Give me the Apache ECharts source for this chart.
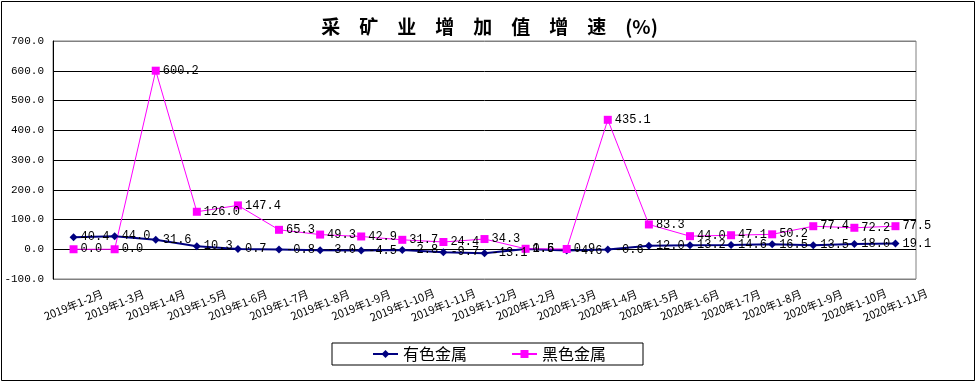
<!DOCTYPE html>
<html><head><meta charset="utf-8">
<script src="https://cdn.jsdelivr.net/npm/echarts@6/dist/echarts.min.js"></script>
<style>html,body{margin:0;padding:0;background:#fff}#c{width:979px;height:383px}</style>
</head><body><div id="c"></div>
<script>
const categories = ['2019年1-2月','2019年1-3月','2019年1-4月','2019年1-5月','2019年1-6月','2019年1-7月','2019年1-8月','2019年1-9月','2019年1-10月','2019年1-11月','2019年1-12月','2020年1-2月','2020年1-3月','2020年1-4月','2020年1-5月','2020年1-6月','2020年1-7月','2020年1-8月','2020年1-9月','2020年1-10月','2020年1-11月'];
const nonferrous = [40.4,44.0,31.6,10.3,0.7,-0.8,-3.0,-4.5,-2.8,-9.7,-13.1,0.5,-4.6,-0.6,12.0,13.2,14.6,16.5,13.5,18.0,19.1];
const ferrous = [0.0,0.0,600.2,126.0,147.4,65.3,49.3,42.9,31.7,24.4,34.3,1.6,0.9,435.1,83.3,44.0,47.1,50.2,77.4,72.2,77.5];
const seriesNames = ['有色金属','黑色金属'];
const titleText = '采　矿　业　增　加　值　增　速　(%)';

const chart = echarts.init(document.getElementById('c'));
const mono = 'Liberation Mono';
const cjk = 'Noto Sans CJK SC';
const gridColors = ['#808080','#000','#000','#000','#000','#000','#000','#000','#808080'];
chart.setOption({
  animation: false,
  backgroundColor: '#fff',
  title: {text: titleText, left: 'center', top: 12,
    textStyle: {fontFamily: cjk, fontSize: 19, fontWeight: 'bold', color: '#000'}},
  grid: {left: 53, right: 63, top: 41, bottom: 104, show: true, borderColor: '#808080', borderWidth: 1},
  legend: {left: 332, top: 343, padding: [3, 37, 3, 40], itemGap: 44, itemWidth: 25, itemHeight: 10, itemTextGap: 3,
    borderColor: '#000', borderWidth: 1, backgroundColor: '#fff',
    textStyle: {fontFamily: cjk, fontSize: 16, color: '#000', lineHeight: 16},
    data: seriesNames},
  xAxis: {type: 'category', data: categories, boundaryGap: true,
    axisLine: {onZero: false, show: false}, axisTick: {show: false},
    axisLabel: {interval: 0, rotate: 22, align: 'center', verticalAlign: 'middle', margin: 26,
      fontFamily: cjk, fontSize: 11, color: '#000'}},
  yAxis: {type: 'value', min: -100, max: 700, interval: 100,
    axisLine: {show: true, lineStyle: {color: '#000'}}, axisTick: {show: false},
    axisLabel: {formatter: v => v.toFixed(1), fontFamily: mono, fontSize: 11, color: '#000', margin: 9},
    splitLine: {show: true, lineStyle: {color: gridColors, width: 1}}},
  series: [
    {name: seriesNames[0], type: 'line', data: nonferrous, symbol: 'diamond', symbolSize: 8,
      itemStyle: {color: '#000080'}, lineStyle: {color: '#000080', width: 2},
      label: {show: true, position: 'right', distance: 3, formatter: p => p.value.toFixed(1),
        fontFamily: mono, fontSize: 12, color: '#000'}},
    {name: seriesNames[1], type: 'line', data: ferrous, symbol: 'rect', symbolSize: 8,
      itemStyle: {color: '#FF00FF'}, lineStyle: {color: '#FF00FF', width: 1},
      label: {show: true, position: 'right', distance: 3, formatter: p => p.value.toFixed(1),
        fontFamily: mono, fontSize: 12, color: '#000'}}
  ],
  graphic: [{type: 'rect', shape: {x: 1.5, y: 1.5, width: 973, height: 379}, silent: true, z: -1,
    style: {fill: null, stroke: '#000', lineWidth: 1}}]
});
</script></body></html>
